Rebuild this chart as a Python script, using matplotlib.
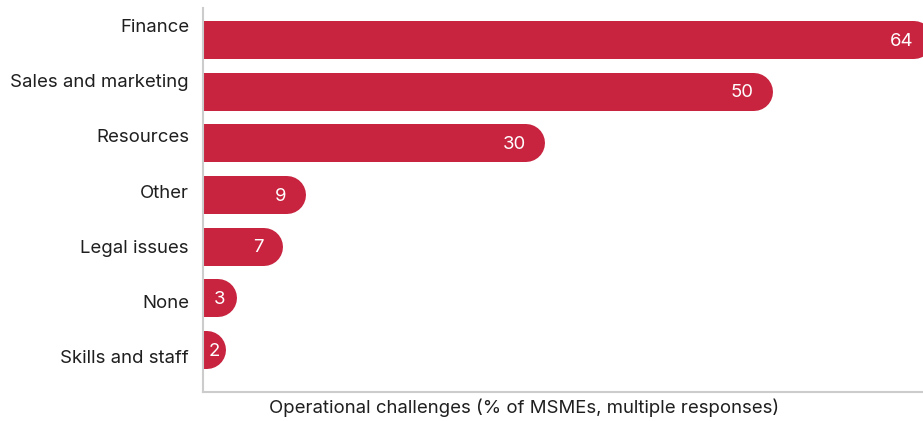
import matplotlib
matplotlib.use('Agg')
import matplotlib.pyplot as plt
import matplotlib.transforms as mtransforms

categories = ['Finance', 'Sales and marketing', 'Resources', 'Other',
              'Legal issues', 'None', 'Skills and staff']
values = [64, 50, 30, 9, 7, 3, 2]
x_label = 'Operational challenges (% of MSMEs, multiple responses)'

BAR_COLOR = '#C8233F'
TEXT_COLOR = '#1f1f1f'
SPINE_COLOR = '#cccccc'
FS = 13.4
plt.rcParams['font.family'] = ['Inter', 'DejaVu Sans']

W, H, DPI = 923, 421, 100
fig = plt.figure(figsize=(W / DPI, H / DPI), dpi=DPI)
# axes in pixel layout
ax_left, ax_right, ax_top, ax_bottom = 203, 923, 8, 392
ax = fig.add_axes([ax_left / W, (H - ax_bottom) / H,
                   (ax_right - ax_left) / W, (ax_bottom - ax_top) / H])

px_per_unit = 11.4
bar_step = 51.67   # px between bar centres
bar_h = 38         # px
first_bar = 40     # px from top
radius_units = (bar_h / 2) / px_per_unit

ax.set_xlim(0, (ax_right - ax_left) / px_per_unit)
ax.set_ylim((ax_bottom - first_bar) / bar_step, (ax_top - first_bar) / bar_step)

lw_pt = bar_h * 72 / DPI
for i, v in enumerate(values):
    ax.plot([-radius_units * 2, v - radius_units], [i, i], color=BAR_COLOR,
            lw=lw_pt, solid_capstyle='round', clip_on=True)
    tx = v - 1.7 if v > 5 else v * 0.5 + 0.45
    ax.text(tx, i + 0.02, str(v), color='white', fontsize=FS,
            ha='right', va='center')

# category labels (evenly spaced baselines, independent of bar centres)
trans = mtransforms.blended_transform_factory(fig.transFigure, ax.transData)
for i, c in enumerate(categories):
    base_px = 32 + 55.17 * i
    ax.text(189 / W, (base_px - first_bar) / bar_step, c, transform=trans,
            ha='right', va='baseline', fontsize=FS, color=TEXT_COLOR,
            clip_on=False)

fig.text(524 / W, (H - 413) / H, x_label, ha='center', va='baseline',
         fontsize=FS, color=TEXT_COLOR)

ax.set_xticks([])
ax.set_yticks([])
for s in ['top', 'right']:
    ax.spines[s].set_visible(False)
for s in ['left', 'bottom']:
    ax.spines[s].set_color(SPINE_COLOR)
    ax.spines[s].set_linewidth(1.5)

fig.savefig('out.png', dpi=DPI)
